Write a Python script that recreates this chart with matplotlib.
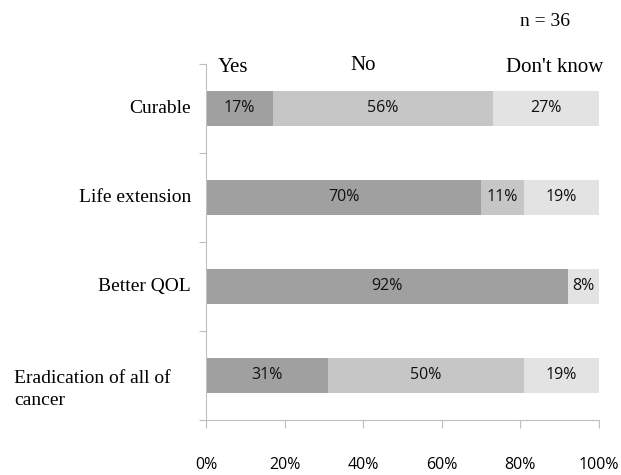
from matplotlib import pyplot as plt
from matplotlib import transforms
import numpy as np

categories = ["Curable", "Life extension", "Better QOL", "Eradication of all of\ncancer"]
yes = [17, 70, 92, 31]
no = [56, 11, 0, 50]
dont_know = [27, 19, 8, 19]
series_names = ["Yes", "No", "Don't know"]
colors = ["#a0a0a0", "#c6c6c6", "#e3e3e3"]
xticks = [0, 20, 40, 60, 80, 100]

serif = "Liberation Serif"
sans = ["Open Sans", "DejaVu Sans"]

fig = plt.figure(figsize=(6.21, 4.75), dpi=100)
ax = fig.add_axes([0.3317, 0.1158, 0.6329, 0.7495])

ypos = np.arange(len(categories))
left = np.zeros(len(categories))
for vals, col in zip([yes, no, dont_know], colors):
    vals = np.array(vals, dtype=float)
    ax.barh(ypos, vals, left=left, height=0.4, color=col, edgecolor="none")
    for y, l, v in zip(ypos, left, vals):
        if v > 0:
            ax.text(l + v / 2, y, "%d%%" % v, ha="center", va="center",
                    fontsize=11.5, family=sans, color="#111111")
    left += vals

ax.set_xlim(0, 100)
ax.set_ylim(len(categories) - 0.5, -0.5)
ax.set_xticks(xticks)
ax.set_xticklabels(["%d%%" % t for t in xticks], family=sans, fontsize=11.5)
ax.set_yticks(np.arange(len(categories) + 1) - 0.5)
ax.set_yticklabels([])
ax.tick_params(axis="y", length=5, color="#bfbfbf", direction="out")
ax.tick_params(axis="x", length=6, color="#bfbfbf", pad=21, direction="out")
for s in ["top", "right"]:
    ax.spines[s].set_visible(False)
for s in ["left", "bottom"]:
    ax.spines[s].set_color("#bfbfbf")

# category labels
trans = transforms.blended_transform_factory(fig.transFigure, ax.transData)
for y, cat in zip(ypos, categories):
    if "\n" in cat:
        ax.text(14 / 621, y + 0.16, cat, transform=trans, ha="left", va="center",
                family=serif, fontsize=14, linespacing=1.4)
    else:
        ax.text(191 / 621, y, cat, transform=trans, ha="right", va="center",
                family=serif, fontsize=14)

# header labels
fig.text(233 / 621, 1 - 67 / 475, series_names[0], ha="center", va="center", family=serif, fontsize=15)
fig.text(363 / 621, 1 - 65 / 475, series_names[1], ha="center", va="center", family=serif, fontsize=15)
fig.text(555 / 621, 1 - 67 / 475, series_names[2], ha="center", va="center", family=serif, fontsize=15)
fig.text(545 / 621, 1 - 21 / 475, "n = 36", ha="center", va="center", family=serif, fontsize=14)

fig.savefig("out.png", dpi=100)
